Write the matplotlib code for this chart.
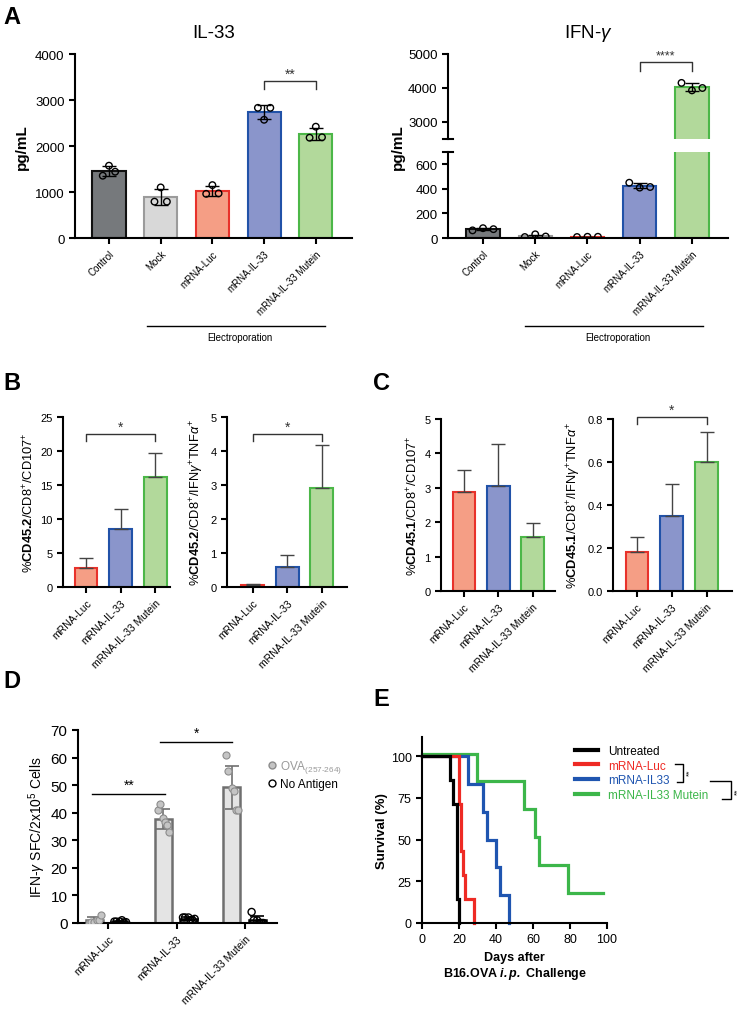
import numpy as np
import matplotlib.pyplot as plt
from matplotlib.lines import Line2D
from matplotlib.transforms import blended_transform_factory, ScaledTranslation

plt.rcParams['font.family'] = ['Liberation Sans', 'DejaVu Sans']
plt.rcParams['mathtext.fontset'] = 'custom'
plt.rcParams['mathtext.rm'] = 'Liberation Sans'
plt.rcParams['mathtext.bf'] = 'Liberation Sans:bold'
plt.rcParams['mathtext.it'] = 'Liberation Sans:italic'
plt.rcParams['mathtext.bfit'] = 'Liberation Sans:bold:italic'
plt.rcParams['axes.linewidth'] = 1.5
plt.rcParams['xtick.major.width'] = 1.5
plt.rcParams['ytick.major.width'] = 1.5
plt.rcParams['xtick.major.size'] = 4
plt.rcParams['ytick.major.size'] = 4

# ---- data ----
groups_a = ['Control', 'Mock', 'mRNA-Luc', 'mRNA-IL-33', 'mRNA-IL-33 Mutein']
il33_pts = [[1354, 1572, 1441], [790, 1100, 790], [960, 1150, 970],
            [2830, 2570, 2830], [2180, 2420, 2190]]
ifng_pts = [[62, 80, 72], [8, 30, 12], [8, 10, 10],
            [450, 410, 415], [4150, 3930, 4000]]

groups_bc = ['mRNA-Luc', 'mRNA-IL-33', 'mRNA-IL-33 Mutein']
b_cd107 = [2.8, 8.5, 16.2]
b_cd107_err = [1.4, 3.0, 3.5]
b_ifng = [0.07, 0.6, 2.9]
b_ifng_err = [0.02, 0.35, 1.28]
c_cd107 = [2.88, 3.05, 1.57]
c_cd107_err = [0.64, 1.23, 0.40]
c_ifng = [0.18, 0.35, 0.60]
c_ifng_err = [0.07, 0.15, 0.14]

ova_pts = [[0, 0.5, 0.5, 1, 1, 3],
           [41, 43, 38, 36.5, 35.5, 33],
           [61, 55, 49, 48, 41, 41]]
noag_pts = [[0.5, 0.5, 0.5, 1, 0.2, 0.3],
            [2, 2, 2, 1, 1, 1.5],
            [4, 1, 1, 0, 0, 0]]

surv_labels = ['Untreated', 'mRNA-Luc', 'mRNA-IL33', 'mRNA-IL33 Mutein']
surv_events = [[15, 17, 19, 19, 19, 19, 20],
               [20, 20, 21, 21, 22, 23, 28],
               [25, 33, 35, 40, 42, 47],
               [30, 55, 61, 63, 79]]
surv_censored = [[], [], [], [98]]

# ---- styles ----
fills_a = ['#76797c', '#d8d8d8', '#f59e85', '#8a95cb', '#b2d99b']
edges_a = ['#111111', '#9b9b9b', '#e8322b', '#2152a8', '#4cb748']
fills_bc = fills_a[2:]
edges_bc = edges_a[2:]
surv_colors = ['black', '#ee2a24', '#1f55b0', '#3cb64a']

W, H = 753, 1020
fig = plt.figure(figsize=(W / 100, H / 100), dpi=100)


def box(l, t, r, b):
    return [l / W, 1 - b / H, (r - l) / W, (b - t) / H]


def fx(x):
    return x / W


def fy(y):
    return 1 - y / H


def clean(ax):
    ax.spines['top'].set_visible(False)
    ax.spines['right'].set_visible(False)


def bracket(ax, x0, x1, y, leg, text, ts=9, color='#333333', dy=0.0):
    ax.plot([x0, x0, x1, x1], [y - leg, y, y, y - leg], color=color, lw=1, clip_on=False)
    ax.text((x0 + x1) / 2, y + dy, text, ha='center', va='bottom', fontsize=ts, color=color)


# ---------------- Panel A ----------------
jit = [-0.12, 0, 0.12]
xa = np.arange(5)
means = [np.mean(p) for p in il33_pts]
sds = [np.std(p, ddof=1) for p in il33_pts]
ax = fig.add_axes(box(75, 55, 352, 239))
ax.bar(xa, means, width=0.64, color=fills_a, edgecolor=edges_a, linewidth=1.5)
ax.errorbar(xa, means, yerr=sds, fmt='none', ecolor='black', elinewidth=1, capsize=5, capthick=1)
for i, p in enumerate(il33_pts):
    ax.scatter(i + np.array(jit), p, s=22, facecolor='none', edgecolor='black', linewidth=1, zorder=3)
ax.set_xlim(-0.657, 4.7)
ax.set_ylim(0, 4000)
ax.set_yticks([0, 1000, 2000, 3000, 4000])
ax.set_xticks(xa)
ax.set_xticklabels(groups_a, rotation=45, ha='right', rotation_mode='anchor', fontsize=7)
ax.tick_params(axis='y', labelsize=9.5)
ax.set_ylabel('pg/mL', fontsize=11, fontweight='bold', labelpad=4)
ax.set_title('IL-33', fontsize=13.5, pad=12)
clean(ax)
bracket(ax, 3, 4, 3420, 180, '**', ts=10)
tr = blended_transform_factory(ax.transData, ax.transAxes)
ax.plot([0.73, 4.17], [-0.478, -0.478], color='black', lw=1, transform=tr, clip_on=False)
ax.text(2.54, -0.538, 'Electroporation', transform=tr, ha='center', va='center', fontsize=7)

# IFN-gamma broken axis
means = [np.mean(p) for p in ifng_pts]
sds = [np.std(p, ddof=1) for p in ifng_pts]
jit_g = [-0.2, 0, 0.2]
axt = fig.add_axes(box(448, 55, 728, 140))
axb = fig.add_axes(box(448, 153, 728, 239))
for a in (axt, axb):
    a.bar(xa, means, width=0.64, color=fills_a, edgecolor=edges_a, linewidth=1.5)
    a.errorbar(xa, means, yerr=sds, fmt='none', ecolor='black', elinewidth=1, capsize=5, capthick=1)
    for i, p in enumerate(ifng_pts):
        a.scatter(i + np.array(jit_g), p, s=22, facecolor='none', edgecolor='black', linewidth=1, zorder=3)
    a.set_xlim(-0.67, 4.69)
    clean(a)
    a.tick_params(axis='y', labelsize=9.5)
axt.set_ylim(2500, 5000)
axt.set_yticks([3000, 4000, 5000])
axt.spines['bottom'].set_visible(False)
axt.set_xticks([])
axt.plot([-0.018, 0.018], [0, 0], color='black', lw=1.5, transform=axt.transAxes, clip_on=False)
axb.set_ylim(0, 700)
axb.set_yticks([0, 200, 400, 600])
axb.plot([-0.018, 0.018], [1, 1], color='black', lw=1.5, transform=axb.transAxes, clip_on=False)
axb.set_xticks(xa)
axb.set_xticklabels(groups_a, rotation=45, ha='right', rotation_mode='anchor', fontsize=7)
axt.set_title('IFN-$\\gamma$', fontsize=13.5, pad=12)
fig.text(fx(398), fy(147), 'pg/mL', rotation=90, ha='center', va='center', fontsize=11, fontweight='bold')
bracket(axt, 3, 4, 4770, 270, '****', ts=9)
tr = blended_transform_factory(axb.transData, axb.transAxes)
axb.plot([0.80, 4.21], [-1.023, -1.023], color='black', lw=1, transform=tr, clip_on=False)
axb.text(2.58, -1.151, 'Electroporation', transform=tr, ha='center', va='center', fontsize=7)


# ---------------- Panels B and C ----------------
def small_bar(rect, xlim, vals, errs, ylim, yticks, ylabel, fmt=None):
    a = fig.add_axes(box(*rect))
    x = np.arange(3)
    a.bar(x, vals, width=0.66, color=fills_bc, edgecolor=edges_bc, linewidth=1.5)
    a.errorbar(x, vals, yerr=[np.zeros(3), errs], fmt='none', ecolor='#444444',
               elinewidth=1, capsize=5, capthick=1)
    a.set_xlim(*xlim)
    a.set_ylim(*ylim)
    a.set_yticks(yticks)
    if fmt:
        a.set_yticklabels([fmt.format(v) for v in yticks])
    a.set_xticks(x)
    a.set_xticklabels(groups_bc, rotation=45, ha='right', rotation_mode='anchor', fontsize=7.5)
    a.tick_params(axis='y', labelsize=8)
    a.set_ylabel(ylabel, fontsize=9.3, labelpad=3)
    clean(a)
    return a


lab1 = '%$\\mathbf{CD45.2}$/CD8$^{+}$/CD107$^{+}$'
lab2 = '%$\\mathbf{CD45.2}$/CD8$^{+}$/IFN$\\gamma^{+}$TNF$\\alpha^{+}$'
lab3 = '%$\\mathbf{CD45.1}$/CD8$^{+}$/CD107$^{+}$'
lab4 = '%$\\mathbf{CD45.1}$/CD8$^{+}$/IFN$\\gamma^{+}$TNF$\\alpha^{+}$'

a = small_bar((63, 418, 170, 588), (-0.667, 2.43), b_cd107, b_cd107_err, (0, 25), [0, 5, 10, 15, 20, 25], lab1)
bracket(a, 0, 2, 22.5, 1.0, '*', ts=10)
a = small_bar((227, 418, 347, 588), (-0.75, 2.73), b_ifng, b_ifng_err, (0, 5), [0, 1, 2, 3, 4, 5], lab2)
bracket(a, 0, 2, 4.5, 0.2, '*', ts=10)
a = small_bar((441, 420, 555, 592), (-0.67, 2.65), c_cd107, c_cd107_err, (0, 5), [0, 1, 2, 3, 4, 5], lab3)
a = small_bar((613, 420, 732, 592), (-0.69, 2.73), c_ifng, c_ifng_err, (0, 0.8), [0, 0.2, 0.4, 0.6, 0.8], lab4,
              fmt='{:.1f}')
bracket(a, 0, 2, 0.808, 0.031, '*', ts=10)

# ---------------- Panel D ----------------
ax = fig.add_axes(box(78, 731, 277, 924))
xd = np.arange(3)
off_ova, off_no = -0.2, 0.17
jd = np.array([-0.08, -0.05, 0.0, 0.03, 0.06, 0.09])
ova_m = [np.mean(p) for p in ova_pts]
ova_s = [np.std(p, ddof=1) for p in ova_pts]
no_m = [np.mean(p) for p in noag_pts]
no_s = [np.std(p, ddof=1) for p in noag_pts]
ax.bar(xd + off_ova, ova_m, width=0.25, color='#e4e4e4', edgecolor='#6f6f6f', linewidth=1.8)
ax.bar(xd + off_no, no_m, width=0.25, color='white', edgecolor='black', linewidth=1.8)
ax.errorbar(xd + off_ova, ova_m, yerr=ova_s, fmt='none', ecolor='#6f6f6f', elinewidth=1.2, capsize=5, capthick=1.2)
ax.errorbar(xd + off_no, no_m, yerr=no_s, fmt='none', ecolor='black', elinewidth=1.2, capsize=5, capthick=1.2)
for i in range(3):
    ax.scatter(i + off_ova + jd, ova_pts[i], s=26, facecolor='#c4c4c4', edgecolor='#8c8c8c', linewidth=0.8, zorder=3)
    ax.scatter(i + off_no + jd, noag_pts[i], s=26, facecolor='none', edgecolor='black', linewidth=1, zorder=3)
ax.set_xlim(-0.44, 2.46)
ax.set_ylim(0, 70)
ax.set_yticks(np.arange(0, 71, 10))
ax.set_xticks(xd)
ax.set_xticklabels(groups_bc, rotation=45, ha='right', rotation_mode='anchor', fontsize=7.5)
ax.tick_params(axis='y', labelsize=11)
ax.set_ylabel('IFN-$\\gamma$ SFC/2x10$^{5}$ Cells', fontsize=10, labelpad=2)
clean(ax)
ax.plot([-0.23, 0.83], [46.9, 46.9], color='black', lw=1, clip_on=False)
ax.text(0.3, 47.5, '**', ha='center', va='bottom', fontsize=10)
ax.plot([0.76, 1.8], [65.8, 65.8], color='black', lw=1, clip_on=False)
ax.text(1.28, 66.4, '*', ha='center', va='bottom', fontsize=10)
hd = [Line2D([], [], ls='none', marker='o', ms=5, mfc='#c4c4c4', mec='#8c8c8c'),
      Line2D([], [], ls='none', marker='o', ms=5, mfc='none', mec='black')]
fig.legend(hd, ['OVA$_{(257\\text{-}264)}$', 'No Antigen'], loc='upper left',
           bbox_to_anchor=(fx(267), fy(759)), frameon=False, fontsize=8.5,
           borderpad=0, borderaxespad=0, handlelength=0.8, handletextpad=0.3,
           labelspacing=0.25, labelcolor=['#9a9a9a', 'black'])

# ---------------- Panel E ----------------
ax = fig.add_axes(box(422, 738, 607, 924))
order = [3, 2, 1, 0]
for k in order:
    ev = sorted(surv_events[k])
    n = len(ev) + len(surv_censored[k])
    xs, ys, s, risk = [0], [100.0], 100.0, n
    for t in sorted(set(ev)):
        d = ev.count(t)
        s *= (1 - d / risk)
        risk -= d
        xs.append(t)
        ys.append(s)
    if surv_censored[k]:
        xs.append(max(surv_censored[k]))
        ys.append(s)
    trans = ax.transData
    if k == 3:
        trans = ax.transData + ScaledTranslation(0, 2.5 / 100, fig.dpi_scale_trans)
    ax.plot(xs, ys, drawstyle='steps-post', color=surv_colors[k], lw=2.3,
            transform=trans, clip_on=False, label=surv_labels[k], solid_joinstyle='miter')
ax.set_xlim(0, 100)
ax.set_ylim(0, 111.4)
ax.set_xticks([0, 20, 40, 60, 80, 100])
ax.set_yticks([0, 25, 50, 75, 100])
ax.tick_params(labelsize=9)
ax.set_ylabel('Survival (%)', fontsize=9.5, fontweight='bold', labelpad=2)
ax.set_xlabel('Days after\nB16.OVA $\\mathbfit{i.p.}$ Challenge',
              fontsize=9, fontweight='bold', labelpad=4)
clean(ax)
hs = [Line2D([], [], color=c, lw=3) for c in surv_colors]
fig.legend(hs, surv_labels, loc='upper left', bbox_to_anchor=(fx(575), fy(746)), frameon=False,
           fontsize=8.5, borderpad=0, borderaxespad=0, handlelength=1.95, handletextpad=0.85,
           labelspacing=0.22, labelcolor=surv_colors)
for xs_, ys_ in [([675, 683, 683, 677], [765, 765, 783, 783]),
                 ([710, 731, 731, 722], [782, 782, 800, 800])]:
    fig.add_artist(Line2D([fx(v) for v in xs_], [fy(v) for v in ys_], color='black', lw=1))
fig.text(fx(690), fy(773), '**', rotation=90, ha='center', va='center', fontsize=6)
fig.text(fx(738), fy(792), '**', rotation=90, ha='center', va='center', fontsize=6)

# panel letters
for lab, x, y in [('A', 12, 17), ('B', 12, 383), ('C', 381, 383), ('D', 12, 682), ('E', 381, 699)]:
    fig.text(fx(x), fy(y), lab, fontsize=17, fontweight='bold', ha='center', va='center')

fig.savefig('out.png', dpi=100)
